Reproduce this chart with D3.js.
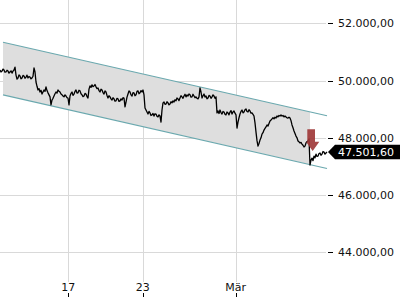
<!DOCTYPE html>
<html>
<head>
<meta charset="utf-8">
<script src="https://cdn.jsdelivr.net/npm/d3@7"></script>
<style>
  html, body { margin: 0; padding: 0; background: #fff; }
  svg { display: block; font-family: "DejaVu Sans", sans-serif; }
</style>
</head>
<body>
<div id="chart"></div>
<script>
// prices, one per session step
const prices = [
  50370,50300,50330,50400,50370,50290,50300,50360,50330,50260,50300,50340,50260,50330,50370,50470,50190,50050,50090,50200,
  50160,50060,50090,50180,50160,50080,50120,50190,50090,50140,50120,50060,50090,50150,50440,50300,49950,49800,49670,49720,
  49600,49660,49530,49600,49670,49620,49780,49650,49570,49500,49430,49150,49320,49380,49460,49540,49600,49560,49670,49630,
  49600,49530,49500,49460,49430,49500,49460,49400,49390,49150,49460,49550,49600,49480,49530,49620,49670,49560,49570,49660,
  49640,49540,49500,49440,49460,49550,49530,49440,49390,49700,49810,49760,49850,49790,49810,49860,49780,49720,49740,49650,
  49600,49700,49670,49580,49530,49640,49600,49480,49390,49470,49430,49360,49320,49400,49360,49280,49290,49380,49360,49270,
  49290,49360,49320,49400,49390,49080,49250,49420,49530,49640,49600,49500,49460,49580,49570,49470,49500,49620,49640,49540,
  49570,49650,49600,49670,49500,49040,48970,48900,48830,48920,48870,48780,48800,48850,48760,48840,48830,48750,48730,48800,
  48760,48550,48970,49220,49250,49170,49180,49260,49220,49150,49180,49260,49220,49290,49250,49330,49290,49390,49360,49300,
  49390,49470,49430,49380,49460,49520,49430,49500,49460,49530,49500,49420,49430,49520,49460,49400,49430,49380,49360,49430,
  49740,49600,49390,49470,49530,49420,49460,49360,49390,49480,49460,49380,49430,49500,49460,49380,49430,48870,48940,48850,
  48970,48880,48830,48920,48900,48820,48800,48900,48870,48800,48900,48950,48830,48900,48940,48860,48800,48340,48550,48700,
  48830,48920,48970,48870,48900,48980,49010,48920,48900,48980,48940,48860,48870,48820,48760,48520,48200,47900,47710,47800,
  47920,48000,48130,48180,48270,48330,48380,48450,48410,48500,48590,48620,48660,48700,48660,48720,48690,48760,48730,48780,
  48760,48800,48760,48780,48730,48760,48730,48700,48690,48720,48690,48600,48450,48350,48240,48150,48060,48000,47890,47860,
  47820,47840,47780,47740,47680,47710,47820,47870,47890,47960,47050,47220,47290,47200,47360,47300,47430,47350,47360,47450,
  47470,47390,47430,47520,47500,47430,47470,47501.6
]
const times = d3.range(prices.length)

// trend channel: start/end step, upper and lower values
const channelTimes = [3, 327]
const channelUpper = [51340, 48770]
const channelLower = [49500, 46930]
const channelFillEnd = 310

// sell signal
const signal = { t: 312.7, price: 47540 }

const yTicks = [44000, 46000, 48000, 50000, 52000]
const xTickTimes = [68.3, 142.7, 235.7]
const xTickLabels = ['17', '23', 'Mär']

const width = 400
const height = 300
const plotRight = 327

const de = d3.formatLocale({ decimal: ',', thousands: '.', grouping: [3], currency: ['', '€'] })
const fmt = de.format(',.2f')

const x = d3.scaleLinear().domain([0, 327]).range([0, plotRight])
const y = d3.scaleLinear().domain([44000, 52000]).range([252.3, 23.3])

const svg = d3.select('#chart').append('svg')
  .attr('width', width)
  .attr('height', height)

// grid
const grid = svg.append('g').attr('stroke', '#d9d9d9').attr('stroke-width', 1)
grid.selectAll('line.h').data(yTicks).join('line')
  .attr('class', 'h')
  .attr('x1', 0).attr('x2', plotRight - 1)
  .attr('y1', d => Math.round(y(d)) + 0.5)
  .attr('y2', d => Math.round(y(d)) + 0.5)
grid.selectAll('line.v').data(xTickTimes).join('line')
  .attr('class', 'v')
  .attr('x1', d => Math.round(x(d)) + 0.5)
  .attr('x2', d => Math.round(x(d)) + 0.5)
  .attr('y1', 0).attr('y2', 282)

// channel fill
const along = (arr, t) => arr[0] + (arr[1] - arr[0]) * (t - channelTimes[0]) / (channelTimes[1] - channelTimes[0])
const t0 = channelTimes[0]
const fillPts = [
  [x(t0), y(along(channelUpper, t0))],
  [x(channelFillEnd), y(along(channelUpper, channelFillEnd))],
  [x(channelFillEnd), y(along(channelLower, channelFillEnd))],
  [x(t0), y(along(channelLower, t0))]
]
svg.append('polygon')
  .attr('points', fillPts.map(p => p.join(',')).join(' '))
  .attr('fill', '#dedede')

// channel lines
;[channelUpper, channelLower].forEach(arr => {
  svg.append('line')
    .attr('x1', x(channelTimes[0])).attr('y1', y(arr[0]))
    .attr('x2', x(channelTimes[1])).attr('y2', y(arr[1]))
    .attr('stroke', '#6aa8ae')
    .attr('stroke-width', 1.1)
})

// price line
const line = d3.line()
  .x((d, i) => x(times[i]))
  .y(d => y(d))
svg.append('path')
  .datum(prices)
  .attr('d', line)
  .attr('fill', 'none')
  .attr('stroke', '#000')
  .attr('stroke-width', 1.3)
  .attr('stroke-linejoin', 'round')

// signal arrow (down)
const ax = x(signal.t)
const ay = y(signal.price)
svg.append('polygon')
  .attr('points', [
    [ax - 5.4, ay - 21.7], [ax + 2.3, ay - 21.7], [ax + 2.3, ay - 9.3],
    [ax + 6.6, ay - 9.3], [ax, ay], [ax - 6.7, ay - 9.3], [ax - 5.4, ay - 9.3]
  ].map(p => p.join(',')).join(' '))
  .attr('fill', '#a0393a')
  .attr('fill-opacity', 0.92)

// y axis
const yAxis = svg.append('g')
yAxis.selectAll('line').data(yTicks).join('line')
  .attr('x1', plotRight + 1).attr('x2', plotRight + 6)
  .attr('y1', d => Math.round(y(d)) + 0.5)
  .attr('y2', d => Math.round(y(d)) + 0.5)
  .attr('stroke', '#000')
yAxis.selectAll('text').data(yTicks).join('text')
  .attr('x', 338)
  .attr('y', d => y(d))
  .attr('dy', '0.36em')
  .attr('font-size', 11)
  .attr('fill', '#111')
  .text(d => fmt(d))

// x axis
const xAxis = svg.append('g')
xAxis.selectAll('line').data(xTickTimes).join('line')
  .attr('x1', d => Math.round(x(d)) + 0.5)
  .attr('x2', d => Math.round(x(d)) + 0.5)
  .attr('y1', 293).attr('y2', 297)
  .attr('stroke', '#000')
xAxis.selectAll('text').data(xTickTimes).join('text')
  .attr('x', d => x(d))
  .attr('y', 291)
  .attr('text-anchor', 'middle')
  .attr('font-size', 11)
  .attr('fill', '#111')
  .text((d, i) => xTickLabels[i])

// last price label
const last = prices[prices.length - 1]
const ly = y(last)
svg.append('polygon')
  .attr('points', [[plotRight + 1, ly], [plotRight + 8, ly - 7.3], [width, ly - 7.3], [width, ly + 7.3], [plotRight + 8, ly + 7.3]]
    .map(p => p.join(',')).join(' '))
  .attr('fill', '#000')
svg.append('text')
  .attr('x', 338)
  .attr('y', ly)
  .attr('dy', '0.36em')
  .attr('font-size', 11)
  .attr('fill', '#fff')
  .text(fmt(last))
</script>
</body>
</html>
